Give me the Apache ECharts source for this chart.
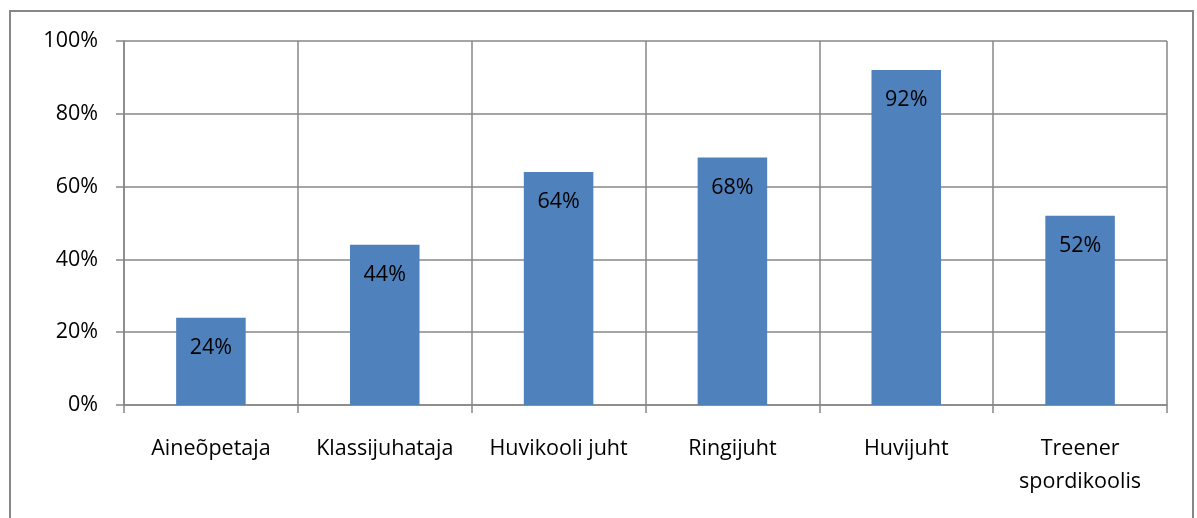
<!DOCTYPE html>
<html><head><meta charset="utf-8">
<script src="https://cdn.jsdelivr.net/npm/echarts@6/dist/echarts.min.js"></script>
<style>html,body{margin:0;padding:0;background:#fff}#c{width:1197px;height:518px}</style>
</head><body><div id="c"></div>
<script>
const categories = ['Aineõpetaja', 'Klassijuhataja', 'Huvikooli juht', 'Ringijuht', 'Huvijuht', 'Treener\nspordikoolis'];
const values = [24, 44, 64, 68, 92, 52];
const yTicks = [0, 20, 40, 60, 80, 100];
const gridColor = '#878787';
const font = '"Open Sans", sans-serif';
const chart = echarts.init(document.getElementById('c'), null, {renderer: 'canvas'});
chart.setOption({
  animation: false,
  graphic: [{type: 'rect', shape: {x: 10, y: 11, width: 1183, height: 530}, style: {fill: 'none', stroke: gridColor, lineWidth: 2}, z: -10}],
  grid: {left: 124, right: 30, top: 41, bottom: 113, containLabel: false},
  xAxis: {
    type: 'category', data: categories, boundaryGap: true,
    axisLine: {show: true, lineStyle: {color: gridColor, width: 1.5}},
    axisTick: {show: true, length: 8, alignWithLabel: false, lineStyle: {color: gridColor, width: 1.5}},
    splitLine: {show: true, lineStyle: {color: gridColor, width: 1.5}},
    axisLabel: {color: '#000', fontFamily: font, fontSize: 21.5, margin: 27, lineHeight: 33, interval: 0}
  },
  yAxis: {
    type: 'value', min: 0, max: 100, interval: 20,
    axisLine: {show: true, lineStyle: {color: gridColor, width: 1.5}},
    axisTick: {show: true, length: 8, lineStyle: {color: gridColor, width: 1.5}},
    splitLine: {show: true, lineStyle: {color: gridColor, width: 1.5}},
    axisLabel: {color: '#000', fontFamily: font, fontSize: 21.5, margin: 26, formatter: v => yTicks.includes(v) ? v + '%' : ''}
  },
  series: [{
    type: 'bar', data: values, barWidth: '40%',
    itemStyle: {color: '#4F81BD'},
    label: {show: true, position: 'insideTop', distance: 19, color: '#000', fontFamily: font, fontSize: 21.5, formatter: p => p.value + '%'}
  }]
});
</script></body></html>
